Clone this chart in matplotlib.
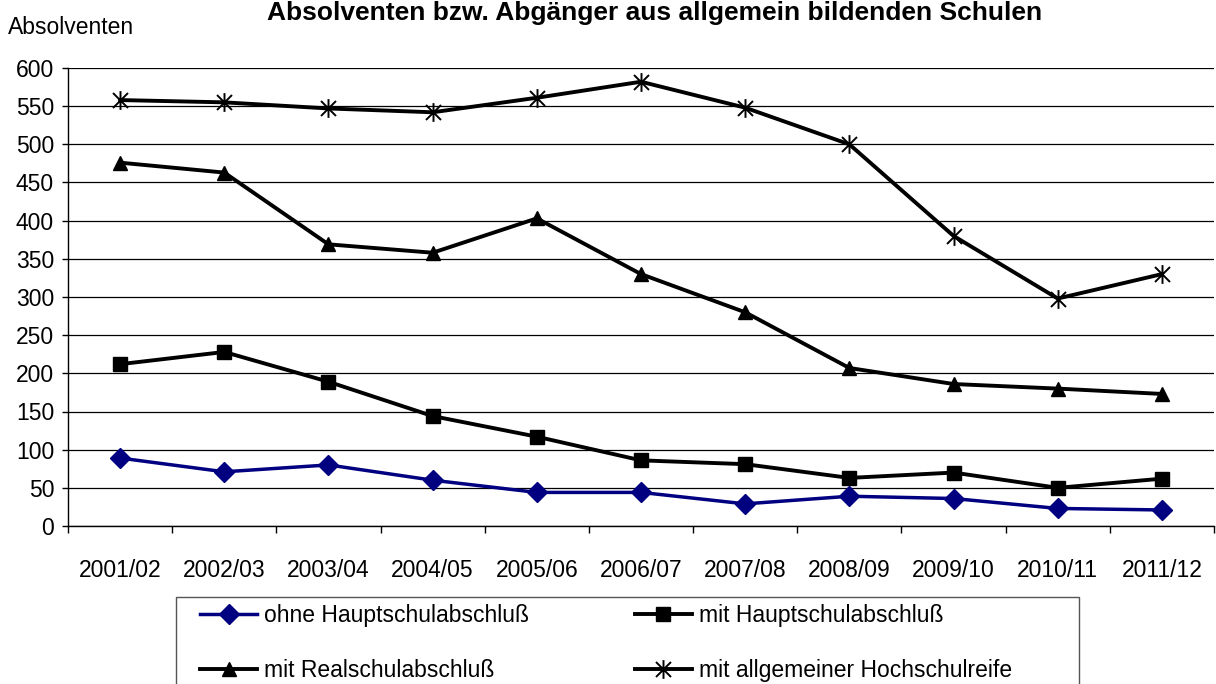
import matplotlib
matplotlib.use("Agg")
import matplotlib.pyplot as plt
from matplotlib.path import Path
from matplotlib.patches import Rectangle
import numpy as np

plt.rcParams['font.family'] = ['Liberation Sans', 'DejaVu Sans']

years = ["2001/02", "2002/03", "2003/04", "2004/05", "2005/06", "2006/07",
         "2007/08", "2008/09", "2009/10", "2010/11", "2011/12"]
ohne_hs = [89, 71, 80, 60, 44, 44, 29, 39, 36, 23, 21]
mit_hs = [212, 228, 189, 144, 117, 86, 81, 63, 70, 50, 62]
mit_rs = [476, 463, 369, 358, 403, 330, 280, 207, 186, 180, 173]
mit_abi = [558, 555, 547, 542, 561, 582, 548, 500, 380, 298, 330]

labels = ["ohne Hauptschulabschluß", "mit Hauptschulabschluß",
          "mit Realschulabschluß", "mit allgemeiner Hochschulreife"]
yticks = [0, 50, 100, 150, 200, 250, 300, 350, 400, 450, 500, 550, 600]

W, H = 1216, 684
fig = plt.figure(figsize=(W / 100, H / 100), dpi=100)
ax = fig.add_axes([68 / W, 1 - 526 / H, (1214 - 68) / W, (526 - 68) / H])

x = np.arange(len(years))

star = Path([(0, -1), (0, 1), (-0.8, -0.8), (0.8, 0.8), (-0.8, 0.8), (0.8, -0.8)],
            [Path.MOVETO, Path.LINETO, Path.MOVETO, Path.LINETO, Path.MOVETO, Path.LINETO])

l1, = ax.plot(x, ohne_hs, color='#000080', lw=2.5, marker='D', ms=10.5, zorder=5)
l2, = ax.plot(x, mit_hs, color='black', lw=2.8, marker='s', ms=10.5, zorder=5)
l3, = ax.plot(x, mit_rs, color='black', lw=2.8, marker='^', ms=10.5, zorder=5)
l4, = ax.plot(x, mit_abi, color='black', lw=2.8, marker=star, ms=13.5, mew=1.4,
              mfc='none', mec='black', zorder=5)

ax.set_xlim(-0.5, len(years) - 0.5)
ax.set_ylim(0, 600)
ax.set_yticks(yticks)
ax.yaxis.grid(True, color='black', lw=0.9)
ax.set_axisbelow(True)
for s in ['top', 'right']:
    ax.spines[s].set_visible(False)
for s in ['left', 'bottom']:
    ax.spines[s].set_color('black')
    ax.spines[s].set_linewidth(1.0)

ax.set_xticks(np.arange(-0.5, len(years), 1.0))
ax.set_xticklabels([])
ax.set_xticks(x, minor=True)
ax.set_xticklabels(years, minor=True)
ax.tick_params(axis='x', which='major', direction='out', length=5, width=1)
ax.tick_params(axis='x', which='minor', length=0, pad=24, labelsize=16.5)
ax.tick_params(axis='y', direction='out', length=4, width=1, pad=6, labelsize=16.5)

fig.text(8 / W, 1 - 28 / H, "Absolventen", fontsize=16.5, ha='left', va='center')
fig.text(655 / W, 1 - 1 / H, "Absolventen bzw. Abgänger aus allgemein bildenden Schulen",
         fontsize=19, fontweight='bold', ha='center', va='top')

box_top = 1 - 597 / H
fig.patches.append(Rectangle((176 / W, -20 / H), (1079 - 176) / W, box_top + 20 / H,
                             transform=fig.transFigure, fill=False,
                             edgecolor='#555555', lw=1.0))

fig.legend([l1, l3, l2, l4], [labels[0], labels[2], labels[1], labels[3]],
           ncol=2, loc='upper left',
           bbox_to_anchor=(200 / W, 1 - 604 / H), frameon=False,
           fontsize=16.5, handlelength=2.5, handletextpad=0.3, columnspacing=4.6,
           labelspacing=1.38, borderpad=0, borderaxespad=0)

fig.savefig("out.png", dpi=100)
